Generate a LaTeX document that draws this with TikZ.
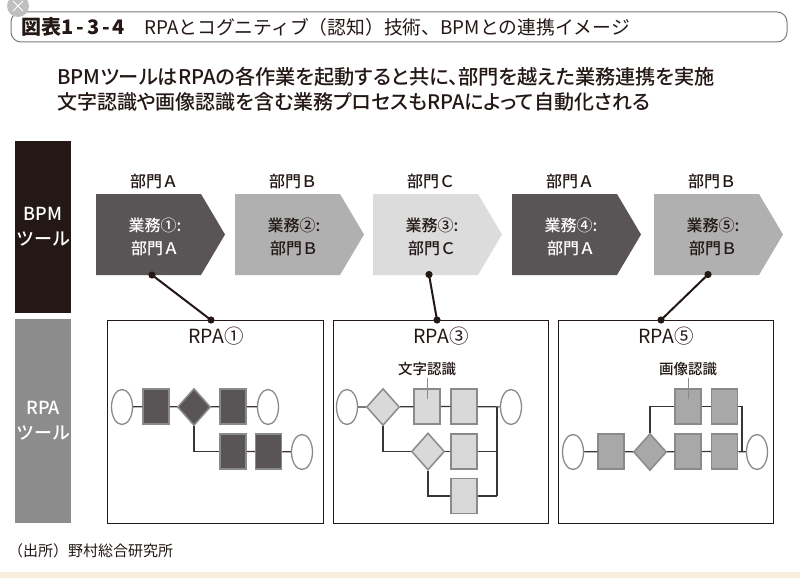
\documentclass[tikz,border=0pt]{standalone}
\usepackage{fontspec}
\setmainfont{Noto Sans CJK JP}
\newfontfamily\jpp{Noto Sans CJK JP}[RawFeature={+palt}]
\IfFontExistsTF{Noto Sans CJK JP Medium}{%
  \newfontfamily\jmed{Noto Sans CJK JP Medium}[RawFeature={+palt}]%
  \newfontfamily\jmedn{Noto Sans CJK JP Medium}}{%
  \newfontfamily\jmed{Noto Sans CJK JP}[RawFeature={+palt}]%
  \newfontfamily\jmedn{Noto Sans CJK JP}}
\usetikzlibrary{shapes.geometric,calc}
\definecolor{ink}{HTML}{231815}
\definecolor{dk}{HTML}{595455}
\definecolor{md}{HTML}{B0B0B0}
\definecolor{lt}{HTML}{DCDCDC}
\definecolor{md3}{HTML}{A8A8A8}
\definecolor{lt3}{HTML}{D9D9D9}
\definecolor{bord}{HTML}{8A8A8A}
\definecolor{fline}{HTML}{3A3435}
\definecolor{rpag}{HTML}{8C8C8C}
\definecolor{beige}{HTML}{F8EEDC}
\definecolor{tbox}{HTML}{7A7A7A}
\begin{document}
\begin{tikzpicture}[x=1pt,y=-1pt,
  every node/.style={inner sep=0pt, text=ink},
  sidebox/.style={minimum width=56pt, anchor=north west, align=center, text=white,
    font=\jmedn\fontsize{18}{25}\selectfont},
  chevtext/.style={align=center, font=\jmedn\fontsize{16}{23}\selectfont},
  chevhead/.style={font=\jmedn\fontsize{16}{16}\selectfont},
  rpabox/.style={draw=ink, line width=1.4pt, minimum height=203pt, anchor=north west},
  rpalabel/.style={font=\fontsize{19.5}{19.5}\selectfont},
  conn/.style={draw=ink, line width=2pt},
  dotc/.style={fill=ink},
  frect/.style={draw=bord, line width=1.5pt, minimum width=26pt, minimum height=35pt},
  fell/.style={ellipse, draw=bord, line width=1.3pt, fill=white, minimum width=21pt, minimum height=35pt},
  fdia/.style={diamond, draw=bord, line width=1.5pt, minimum width=33pt, minimum height=37pt},
  fl/.style={draw=fline, line width=1.2pt},
  smalllab/.style={font=\jmedn\fontsize{14.5}{14.5}\selectfont}
]
\useasboundingbox (0,0) rectangle (800,578);
\fill[white] (0,0) rectangle (800,578);
\fill[beige] (0,572) rectangle (800,578);

% title
\draw[tbox, line width=1pt, rounded corners=10pt] (11,12) rectangle (787,42);
\fill[black!25] (18,6) circle (11);
\draw[white, line width=1pt] (13,1) -- (23,11) (23,1) -- (13,11);
\node[anchor=west, font=\bfseries\fontsize{20}{20}\selectfont] (ttl) at (21,27) {図表1\hspace{3pt}-\hspace{3pt}3\hspace{3pt}-\hspace{3pt}4};
\node[anchor=west, font=\fontsize{18.8}{18.8}\selectfont] (ttl2) at (144,27) {RPAとコグニティブ（認知）技術、BPMとの連携イメージ};

% subtitle
\node[anchor=west, font=\jmed\fontsize{20.2}{20.2}\selectfont] (sub1) at (57,77) {BPMツールはRPAの各作業を起動すると共に、部門を越えた業務連携を実施};
\node[anchor=west, font=\jmed\fontsize{20}{20}\selectfont] (sub2) at (57,102) {文字認識や画像認識を含む業務プロセスもRPAによって自動化される};

% side boxes
\node[sidebox, fill=ink, minimum height=172pt] (bpm) at (15,141) {BPM\\ツール};
\node[sidebox, fill=rpag, minimum height=204pt] (rpa) at (15,319) {RPA\\ツール};

% chevrons
\foreach \i/\x/\fc/\tc/\n/\d in {1/96/dk/white/①/Ａ, 2/235/md/ink/②/Ｂ, 3/373/lt/ink/③/Ｃ, 4/512/dk/white/④/Ａ, 5/654/md/ink/⑤/Ｂ}{
  \fill[\fc] (\x,194) -- ++(105,0) -- ++(24,40.5) -- ++(-24,40.5) -- ++(-105,0) -- cycle;
  \node[chevtext, text=\tc] (c\i) at (\x+59,236.5) {業務\n:\\部門\d};
  \node[chevhead] (h\i) at (\x+58,181) {部門\d};
}

% RPA boxes
\node[rpabox, minimum width=216pt] (r1) at (107,320) {};
\node[rpabox, minimum width=215pt] (r2) at (333,320) {};
\node[rpabox, minimum width=215pt] (r3) at (558,320) {};
\node[rpalabel] (rl1) at (216,336) {RPA①};
\node[rpalabel] (rl2) at (441,336) {RPA③};
\node[rpalabel] (rl3) at (666,336) {RPA⑤};

% connectors
\coordinate (d1) at (152,275);
\coordinate (d3) at (429,274.5);
\coordinate (d5) at (708,274.5);
\coordinate (p1) at (211,320);
\coordinate (p3) at (437,320);
\coordinate (p5) at (661,320);
\draw[conn] (d1) -- (p1);
\draw[conn] (d3) -- (p3);
\draw[conn] (d5) -- (p5);
\foreach \p in {d1,d3,d5,p1,p3,p5}{\fill[dotc] (\p) circle (3.6);}

% ---- flow 1
\node[fell] (e11) at (122,407) {};
\node[frect, fill=dk] (s11) at (156,406.5) {};
\node[fdia, fill=dk] (m1) at (194,407) {};
\node[frect, fill=dk] (s12) at (233,406.5) {};
\node[fell] (e12) at (268,407) {};
\node[frect, fill=dk] (s13) at (233,451.5) {};
\node[frect, fill=dk] (s14) at (268.5,451.5) {};
\node[fell] (e13) at (302,452) {};
\draw[fl] (e11) -- (s11) (s11) -- (m1) (m1) -- (s12) (s12) -- (e12);
\draw[fl] (m1.south) |- (s13.west);
\draw[fl] (s13) -- (s14) (s14) -- (e13);

% ---- flow 3
\node[fell] (e21) at (347,407) {};
\node[fdia, fill=lt3] (m21) at (383,407) {};
\node[frect, fill=lt3] (s21) at (427,406.5) {};
\node[frect, fill=lt3] (s22) at (464,406.5) {};
\node[fell] (e22) at (511,407) {};
\node[fdia, fill=lt3] (m22) at (428,451.5) {};
\node[frect, fill=lt3] (s23) at (464,451.5) {};
\node[frect, fill=lt3] (s24) at (464,496) {};
\coordinate (j2) at (497,407);
\coordinate (j2b) at (497,496);
\draw[fl] (e21) -- (m21) (m21) -- (s21) (s21) -- (s22) (s22) -- (e22);
\draw[fl] (j2) -- (j2b);
\draw[fl] (m21.south) |- (m22.west);
\draw[fl] (m22) -- (s23);
\draw[fl] (s23.east) -- (s23.east -| j2);
\draw[fl] (m22.south) |- (s24.west);
\draw[fl] (s24.east) -- (j2b);
\node[smalllab] (lab2) at (427,369) {文字認識};
\draw[fl, line width=0.8pt, draw=bord] (427,378) -- ($(s21.center)+(0,-8)$);

% ---- flow 5
\node[fell] (e31) at (573,452) {};
\node[frect, fill=md3] (s31) at (611,451.5) {};
\node[fdia, fill=md3] (m3) at (650,452) {};
\node[frect, fill=md3] (s32) at (688,451.5) {};
\node[frect, fill=md3] (s33) at (724.5,451.5) {};
\node[fell] (e32) at (757,452) {};
\node[frect, fill=md3] (s34) at (688,406.5) {};
\node[frect, fill=md3] (s35) at (724.5,406.5) {};
\coordinate (j3) at (742,452);
\draw[fl] (e31) -- (s31) (s31) -- (m3) (m3) -- (s32) (s32) -- (s33) (s33) -- (e32);
\draw[fl] (m3.north) |- (s34.west);
\draw[fl] (s34) -- (s35);
\draw[fl] (s35.east) -| (j3);
\node[smalllab] (lab3) at (688,369) {画像認識};
\draw[fl, line width=0.8pt, draw=bord] (688,378) -- ($(s34.center)+(0,-8)$);

% footer
\node[anchor=west, font=\fontsize{15}{15}\selectfont] (src) at (8,551) {（出所）野村総合研究所};
\end{tikzpicture}
\end{document}
